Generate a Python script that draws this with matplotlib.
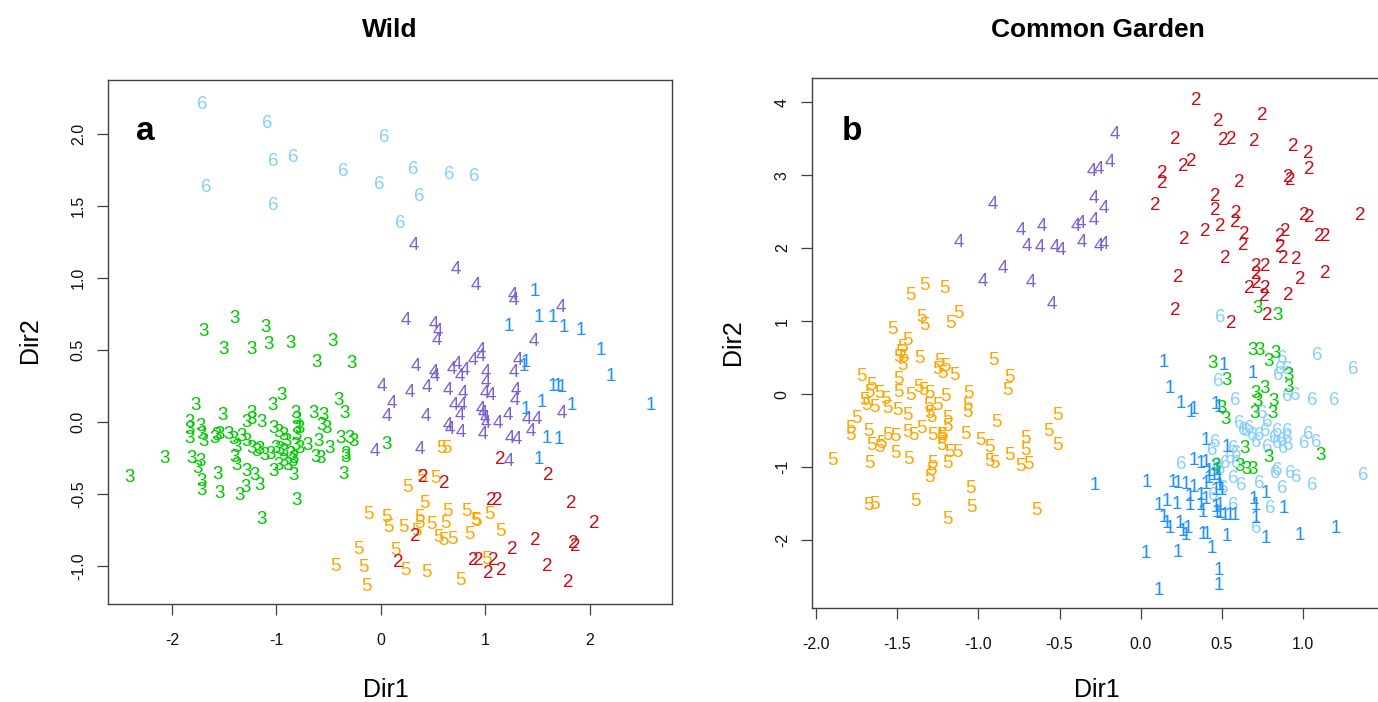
import matplotlib
matplotlib.use("Agg")
import matplotlib.pyplot as plt

W, H = 1378, 702
plt.rcParams['font.family'] = ['Liberation Sans', 'DejaVu Sans']
plt.rcParams['axes.unicode_minus'] = False

# ---------------- Wild (panel a) ----------------
wild_g1_x = [1.47, 1.51, 1.64, 1.22, 1.75, 1.91, 2.10, 2.20, 2.58, 1.39, 1.37, 1.64, 1.69, 1.73, 1.54, 1.83, 1.39, 1.59, 1.70, 1.51]
wild_g1_y = [0.92, 0.74, 0.74, 0.68, 0.67, 0.65, 0.51, 0.33, 0.13, 0.43, 0.40, 0.26, 0.26, 0.25, 0.15, 0.13, 0.10, -0.10, -0.11, -0.25]

wild_g2_x = [1.14, 1.60, 0.40, 0.61, 1.06, 1.11, 1.82, 2.04, 0.33, 1.26, 1.48, 1.84, 1.86, 0.17, 0.88, 0.93, 1.07, 1.03, 1.15, 1.59, 1.79]
wild_g2_y = [-0.25, -0.36, -0.37, -0.41, -0.53, -0.53, -0.55, -0.69, -0.78, -0.87, -0.81, -0.83, -0.85, -0.96, -0.95, -0.95, -0.95, -1.04, -1.02, -0.99, -1.10]

wild_g3_x = [-1.40, -1.70, -1.10, -1.51, -1.24, -1.08, -0.87, -0.46, -0.62, -0.28, -0.95, -1.04, -0.41, -0.35, -1.77,
             -1.52, -1.24, -1.14, -0.65, -0.55, -1.83, -1.83, -1.83, -1.73, -1.72, -1.70, -1.57, -1.59, -1.54, -1.46,
             -1.41, -1.38, -1.33, -1.29, -1.24, -1.19, -1.16, -1.11, -1.06, -1.01, -0.97, -0.93, -0.90, -0.87, -0.84,
             -0.82, -0.81, -0.81, -0.81, -0.82, -0.78, -0.78, -0.70, -0.60, -0.57, -0.52, -0.49, -0.39, -0.30, -0.26,
             -0.34, -0.34, -0.63, -0.58, -1.81, -1.73, -1.76, -1.72, -1.72, -1.56, -1.54, -1.35, -1.30, -1.29, -1.21,
             -1.16, -1.03, -0.98, -0.93, -0.89, -0.85, -0.84, -0.81, -1.14, -0.36, -2.07, -2.41, -1.40, -1.38, -1.03,
             -1.29, -1.24, -0.98, -0.93, 0.05]
wild_g3_y = [0.73, 0.64, 0.67, 0.52, 0.52, 0.55, 0.56, 0.57, 0.43, 0.42, 0.20, 0.125, 0.16, 0.07, 0.13,
             0.06, 0.07, 0.01, 0.07, 0.06, 0.01, -0.04, -0.10, -0.02, -0.07, -0.125, -0.08, -0.10, -0.07, -0.07,
             -0.11, -0.16, -0.09, -0.125, -0.17, -0.19, -0.18, -0.22, -0.21, -0.17, -0.18, -0.19, -0.125, -0.21, -0.24,
             -0.15, -0.08, -0.03, 0.03, 0.07, -0.03, -0.17, -0.15, -0.125, -0.01, -0.03, -0.17, -0.10, -0.10, -0.125,
             -0.21, -0.23, -0.23, -0.24, -0.24, -0.26, -0.31, -0.40, -0.46, -0.35, -0.48, -0.50, -0.44, -0.33, -0.36,
             -0.43, -0.33, -0.29, -0.26, -0.29, -0.26, -0.36, -0.53, -0.66, -0.35, -0.24, -0.37, -0.23, -0.29, -0.03,
             0.01, 0.03, -0.06, -0.08, -0.14]

wild_g4_x = [0.31, 0.72, 0.91, 1.26, 1.27, 1.72, 0.24, 0.51, 0.54, 0.53, 1.46, 0.96, 0.96, 0.88, 0.33, 0.51, 0.52, 0.68,
             0.73, 0.75, 0.80, 1.00, 1.00, 1.27, 1.31, 0.01, 0.28, 0.44, 0.64, 0.78, 0.99, 1.05, 1.29, 1.28, 0.10, 0.70,
             0.77, 0.96, 0.97, 0.99, 1.00, 0.06, 0.43, 0.75, 1.21, 1.40, 1.49, 1.73, 1.12, 0.64, 0.66, 0.76, 0.97, 1.43,
             1.23, 1.30, -0.06, 0.37, 1.22]
wild_g4_y = [1.24, 1.07, 0.96, 0.89, 0.86, 0.81, 0.72, 0.69, 0.64, 0.58, 0.57, 0.51, 0.47, 0.44, 0.40, 0.36, 0.33, 0.38,
             0.41, 0.33, 0.37, 0.36, 0.29, 0.36, 0.44, 0.26, 0.22, 0.25, 0.23, 0.21, 0.21, 0.20, 0.23, 0.16, 0.14, 0.13,
             0.13, 0.10, 0.07, 0.04, 0.00, 0.05, 0.05, 0.06, 0.06, 0.03, 0.03, 0.07, 0.00, -0.01, -0.04, -0.06, -0.07, -0.05,
             -0.10, -0.11, -0.19, -0.18, -0.26]

wild_g5_x = [0.58, 0.63, 0.25, 0.39, 0.52, -0.12, 0.05, 0.07, 0.22, 0.37, 0.37, 0.42, 0.48, 0.62, 0.64, 0.82, 0.90, 0.91,
             1.04, 0.85, 1.14, 0.55, 0.60, 0.68, -0.22, 0.14, -0.44, -0.17, 0.23, 0.44, 0.76, -0.14, 1.01, 0.34]
wild_g5_y = [-0.17, -0.17, -0.44, -0.37, -0.38, -0.63, -0.65, -0.72, -0.72, -0.65, -0.69, -0.55, -0.70, -0.69, -0.61, -0.61,
             -0.67, -0.68, -0.63, -0.77, -0.75, -0.79, -0.81, -0.80, -0.87, -0.88, -0.99, -1.00, -1.02, -1.03, -1.09, -1.13,
             -0.94, -0.75]

wild_g6_x = [-1.71, -1.09, 0.03, -1.03, -0.84, -0.36, 0.31, 0.65, 0.89, -1.67, -0.02, 0.37, -1.03, 0.18]
wild_g6_y = [2.22, 2.09, 1.99, 1.82, 1.85, 1.75, 1.77, 1.73, 1.72, 1.64, 1.66, 1.58, 1.52, 1.39]

# ---------------- Common Garden (panel b) ----------------
cg_g1_x = [0.14, 0.18, 0.25, 0.31, 0.33, 0.46, 0.48, 0.51, 0.69, -0.28, 0.04, 0.40, 0.53, 0.33, 0.37, 0.40, 0.42, 0.42,
           0.45, 0.47, 0.48, 0.49, 0.50, 0.46, 0.20, 0.23, 0.28, 0.33, 0.40, 0.30, 0.37, 0.40, 0.11, 0.16, 0.22, 0.30,
           0.37, 0.38, 0.46, 0.47, 0.70, 0.71, 0.77, 0.14, 0.16, 0.18, 0.24, 0.26, 0.28, 0.29, 0.49, 0.52, 0.55, 0.58,
           0.49, 0.38, 0.41, 0.53, 0.71, 0.77, 0.88, 0.98, 1.20, 0.03, 0.23, 0.44, 0.48, 0.48, 0.11]
cg_g1_y = [0.46, 0.11, -0.10, -0.22, -0.18, -0.11, -0.15, 0.42, 0.31, -1.22, -1.18, -0.61, -0.70, -0.88, -0.93, -0.91, -1.03,
           -1.13, -1.09, -1.02, -1.13, -1.22, -1.29, -1.29, -1.18, -1.20, -1.21, -1.25, -1.21, -1.37, -1.36, -1.41, -1.50,
           -1.45, -1.48, -1.50, -1.50, -1.59, -1.52, -1.59, -1.41, -1.50, -1.34, -1.66, -1.75, -1.82, -1.75, -1.86, -1.91,
           -1.82, -1.61, -1.63, -1.63, -1.63, -1.50, -1.89, -1.90, -1.92, -1.68, -1.95, -1.54, -1.91, -1.82, -2.16, -2.14,
           -2.09, -2.39, -2.59, -2.66]

cg_g2_x = [0.34, 0.75, 0.48, 0.21, 0.51, 0.56, 0.70, 0.94, 1.03, 1.04, 0.26, 0.31, 0.13, 0.13, 0.61, 0.91, 0.92, 0.09,
           0.46, 0.46, 0.59, 0.58, 1.01, 1.04, 1.35, 0.49, 0.40, 0.27, 0.64, 0.63, 0.89, 0.86, 0.86, 1.10, 1.14, 0.52,
           0.88, 0.96, 0.71, 0.77, 0.71, 1.14, 0.23, 0.98, 0.67, 0.71, 0.77, 0.76, 0.91, 0.21, 0.78, 0.56]
cg_g2_y = [4.05, 3.84, 3.76, 3.52, 3.50, 3.52, 3.49, 3.42, 3.32, 3.11, 3.15, 3.21, 3.05, 2.91, 2.92, 3.00, 2.95, 2.61,
           2.73, 2.54, 2.50, 2.38, 2.48, 2.45, 2.48, 2.32, 2.25, 2.15, 2.22, 2.06, 2.25, 2.18, 2.04, 2.19, 2.18, 1.88,
           1.89, 1.87, 1.77, 1.77, 1.66, 1.68, 1.63, 1.60, 1.47, 1.54, 1.48, 1.36, 1.38, 1.17, 1.11, 0.99]

cg_g3_x = [0.72, 0.84, 0.69, 0.73, 0.79, 0.83, 0.44, 0.53, 0.91, 0.91, 0.71, 0.76, 0.72, 0.70, 0.82, 0.81, 0.50, 0.52,
           0.64, 0.79, 1.11, 0.46, 0.61, 0.65, 0.69]
cg_g3_y = [1.20, 1.11, 0.63, 0.63, 0.47, 0.58, 0.44, 0.22, 0.28, 0.12, 0.03, 0.10, -0.08, -0.24, -0.08, -0.24, -0.17, -0.32,
           -0.72, -0.84, -0.82, -0.97, -0.97, -1.00, -1.00]

cg_g4_x = [-0.16, -0.30, -0.26, -0.19, -0.91, -0.29, -0.23, -0.74, -0.61, -0.40, -0.37, -0.29, -1.12, -0.70, -0.62, -0.53,
           -0.49, -0.36, -0.26, -0.23, -0.85, -0.97, -0.68, -0.55]
cg_g4_y = [3.59, 3.08, 3.11, 3.20, 2.62, 2.70, 2.57, 2.27, 2.32, 2.32, 2.36, 2.41, 2.10, 2.05, 2.04, 2.04,
           2.00, 2.10, 2.05, 2.07, 1.75, 1.57, 1.55, 1.26]

cg_g5_x = [-1.33, -1.42, -1.21, -1.53, -1.35, -1.33, -1.17, -1.12, -1.44, -1.47, -1.48, -1.49, -1.46, -1.47, -1.36, -1.24,
           -1.20, -1.25, -1.22, -1.15, -0.91, -0.81, -0.82, -1.72, -1.66, -1.49, -1.37, -1.34, -1.30, -1.67, -1.61, -1.57,
           -1.49, -1.42, -1.20, -1.06, -1.07, -1.07, -1.70, -1.64, -1.69, -1.56, -1.50, -1.44, -1.31, -1.30, -1.29, -1.25,
           -1.75, -1.19, -1.19, -1.22, -1.23, -0.89, -0.51, -1.79, -1.79, -1.68, -1.56, -1.51, -1.44, -1.40, -1.35, -1.28,
           -1.23, -1.08, -0.99, -0.93, -0.93, -0.90, -0.81, -0.74, -0.69, -0.71, -0.71, -0.57, -0.51, -1.66, -1.67, -1.60,
           -1.61, -1.51, -1.43, -1.23, -1.18, -1.13, -1.19, -1.28, -1.29, -1.30, -1.90, -1.05, -1.68, -1.64, -1.39, -1.04,
           -1.19, -0.64]
cg_g5_y = [1.52, 1.38, 1.47, 0.91, 1.08, 0.97, 0.99, 1.13, 0.76, 0.67, 0.60, 0.53, 0.53, 0.42, 0.51, 0.47,
           0.40, 0.37, 0.31, 0.28, 0.49, 0.26, 0.08, 0.27, 0.15, 0.23, 0.12, 0.08, 0.03, 0.05, 0.03, -0.04,
           0.05, 0.01, -0.01, 0.03, -0.13, -0.22, -0.06, -0.15, -0.13, -0.17, -0.20, -0.27, -0.13, -0.24, -0.29, -0.13,
           -0.31, -0.31, -0.42, -0.54, -0.58, -0.36, -0.26, -0.45, -0.54, -0.49, -0.54, -0.56, -0.50, -0.54, -0.44, -0.54,
           -0.54, -0.53, -0.61, -0.70, -0.90, -0.93, -0.81, -0.96, -0.94, -0.58, -0.74, -0.49, -0.67, -0.68, -0.93, -0.65,
           -0.70, -0.78, -0.87, -0.68, -0.77, -0.77, -0.93, -0.93, -1.02, -1.12, -0.88, -1.26, -1.50, -1.48, -1.44, -1.52,
           -1.69, -1.57]

cg_g6_x = [1.09, 1.31, 0.87, 0.86, 0.85, 0.90, 0.48, 0.58, 0.90, 0.95, 1.06, 1.19, 0.75, 0.78, 0.61, 0.63, 0.67, 0.69,
           0.73, 0.77, 0.82, 0.84, 0.87, 0.90, 0.91, 0.88, 1.03, 1.01, 1.08, 0.46, 0.44, 0.57, 0.59, 0.55, 0.52, 0.59,
           0.25, 0.47, 0.49, 0.57, 0.62, 0.73, 0.83, 0.84, 0.87, 0.92, 0.96, 1.06, 1.37, 0.45, 0.51, 0.57, 0.80, 0.71,
           0.65, 0.71, 0.78, 0.84, 0.90, 0.49]
cg_g6_y = [0.56, 0.37, 0.51, 0.37, 0.28, 0.37, 0.20, -0.06, -0.01, 0.01, -0.06, -0.06, -0.24, -0.36, -0.38, -0.47, -0.45, -0.54,
           -0.54, -0.49, -0.58, -0.65, -0.61, -0.58, -0.68, -0.72, -0.52, -0.65, -0.63, -0.63, -0.74, -0.72, -0.79, -0.86, -0.93, -0.93,
           -0.94, -0.95, -1.00, -1.13, -1.22, -1.20, -1.06, -1.02, -1.27, -1.06, -1.12, -1.23, -1.09, -1.36, -1.27, -1.50, -1.54, -1.82,
           -0.49, -0.63, -0.70, -0.49, -0.49, 1.08]

# tick values / labels
wild_xticks = [-2, -1, 0, 1, 2]
wild_xlabels = ['-2', '-1', '0', '1', '2']
wild_yticks = [-1.0, -0.5, 0.0, 0.5, 1.0, 1.5, 2.0]
wild_ylabels = ['-1.0', '-0.5', '0.0', '0.5', '1.0', '1.5', '2.0']
cg_xticks = [-2.0, -1.5, -1.0, -0.5, 0.0, 0.5, 1.0]
cg_xlabels = ['-2.0', '-1.5', '-1.0', '-0.5', '0.0', '0.5', '1.0']
cg_yticks = [-2, -1, 0, 1, 2, 3, 4]
cg_ylabels = ['-2', '-1', '0', '1', '2', '3', '4']

COL = {'1': '#1E90FF', '2': '#CD0A14', '3': '#00C800', '4': '#7A62D2', '5': '#FFA500', '6': '#87CEFA'}

fig = plt.figure(figsize=(W / 100, H / 100), dpi=100)


def fx(px):
    return px / W


def fy(py):
    return 1 - py / H


axL = fig.add_axes([fx(108), fy(604), (672 - 108) / W, (604 - 80) / H])
axR = fig.add_axes([fx(812), fy(608), (1384 - 812) / W, (608 - 78) / H])

wild_groups = [('3', wild_g3_x, wild_g3_y), ('4', wild_g4_x, wild_g4_y), ('1', wild_g1_x, wild_g1_y),
               ('5', wild_g5_x, wild_g5_y), ('2', wild_g2_x, wild_g2_y), ('6', wild_g6_x, wild_g6_y)]
cg_groups = [('6', cg_g6_x, cg_g6_y), ('1', cg_g1_x, cg_g1_y), ('3', cg_g3_x, cg_g3_y),
             ('5', cg_g5_x, cg_g5_y), ('4', cg_g4_x, cg_g4_y), ('2', cg_g2_x, cg_g2_y)]


def draw(ax, groups):
    for lab, xs, ys in groups:
        for x, y in zip(xs, ys):
            ax.text(x, y, lab, color=COL[lab], fontsize=13.5, ha='center', va='center_baseline', clip_on=True)


draw(axL, wild_groups)
draw(axR, cg_groups)

axL.set_xlim(-2.612, 2.785)
axL.set_ylim(-1.264, 2.375)
axR.set_xlim(-2.025, 1.499)
axR.set_ylim(-2.93, 4.33)

axL.set_xticks(wild_xticks, wild_xlabels)
axL.set_yticks(wild_yticks, wild_ylabels)
axR.set_xticks(cg_xticks, cg_xlabels)
axR.set_yticks(cg_yticks, cg_ylabels)

for ax in (axL, axR):
    for s in ax.spines.values():
        s.set_color('#404040')
        s.set_linewidth(1.0)
    ax.tick_params(axis='both', direction='out', length=8, width=0.9, color='#404040',
                   labelsize=11.5, labelcolor='#111111')
    ax.tick_params(axis='x', pad=13)
    ax.tick_params(axis='y', pad=8, labelrotation=90)
    for lbl in ax.get_yticklabels():
        lbl.set_va('center')
        lbl.set_ha('right')

fig.text(fx(390), fy(30), 'Wild', fontsize=19, fontweight='bold', ha='center', va='center')
fig.text(fx(1098), fy(30), 'Common Garden', fontsize=19, fontweight='bold', ha='center', va='center')
fig.text(fx(145), fy(128), 'a', fontsize=24, fontweight='bold', ha='center', va='center_baseline')
fig.text(fx(852), fy(128), 'b', fontsize=24, fontweight='bold', ha='center', va='center_baseline')
fig.text(fx(386), fy(690), 'Dir1', fontsize=18, ha='center', va='center')
fig.text(fx(1097), fy(690), 'Dir1', fontsize=18, ha='center', va='center')
fig.text(fx(30), fy(340), 'Dir2', fontsize=18, ha='center', va='center', rotation=90)
fig.text(fx(733), fy(342), 'Dir2', fontsize=18, ha='center', va='center', rotation=90)

fig.savefig('out.png', dpi=100)
